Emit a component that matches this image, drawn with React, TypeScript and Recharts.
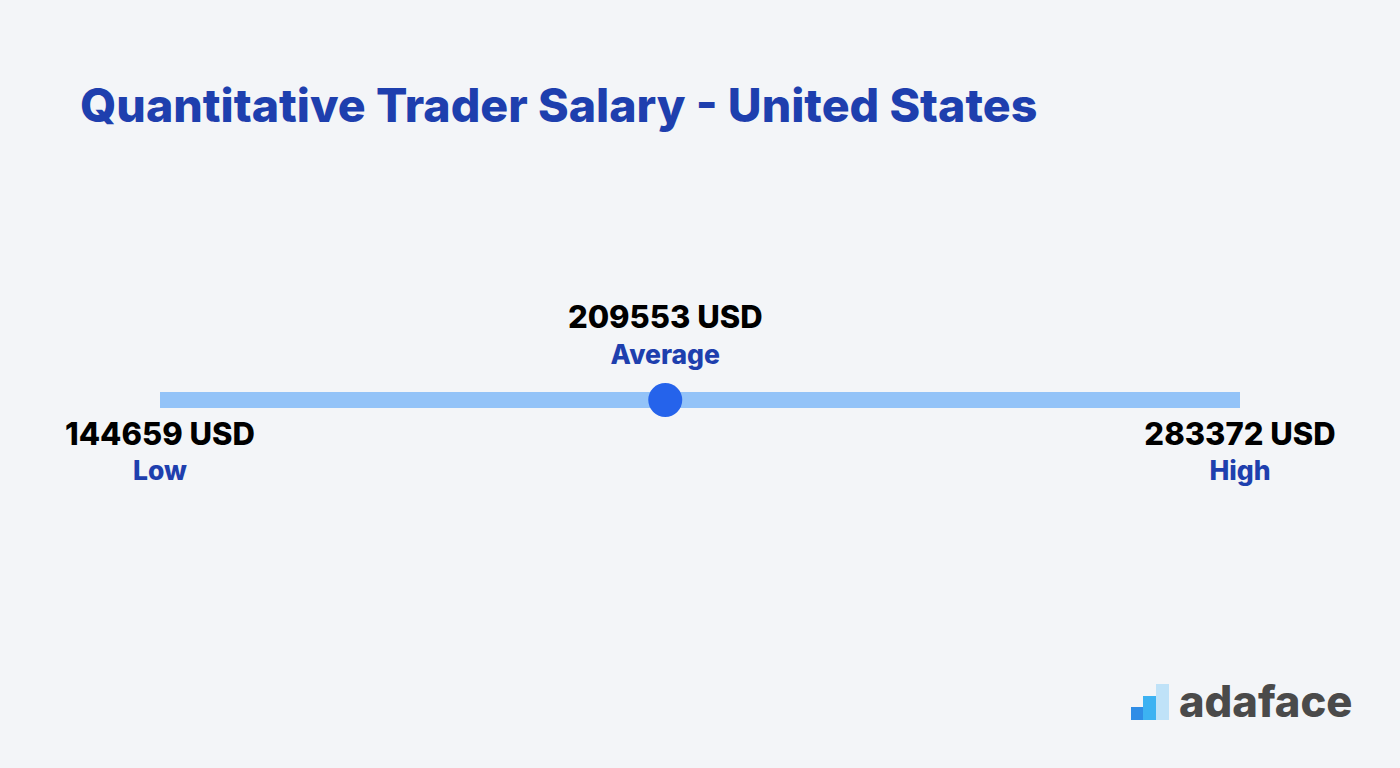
import { ComposedChart, Line, Scatter, XAxis, YAxis } from "recharts";

const title = "Quantitative Trader Salary - United States";
const currency = "USD";

const pointKinds = ["low", "avg", "high"];
const pointNames = ["Low", "Average", "High"];
const pointValues = [144659, 209553, 283372];

const trackRows = [
  { value: pointValues[0], lane: 0 },
  { value: pointValues[2], lane: 0 },
];

const pointRows = pointKinds.map((kind, i) => ({
  kind,
  name: pointNames[i],
  value: pointValues[i],
  lane: 0,
}));

const FONT = "Inter, 'Open Sans', sans-serif";

function PointMark(props: any) {
  const { cx, cy, payload } = props;
  const above = payload.kind === "avg";
  const amount = `${payload.value} ${currency}`;
  return (
    <g>
      {above && <circle cx={cx} cy={cy} r={17} fill="#2563eb" />}
      <text
        x={cx}
        y={above ? cy - 84 : cy + 33}
        textAnchor="middle"
        dominantBaseline="central"
        fontFamily={FONT}
        fontWeight={800}
        fontSize={31}
        fill="#000"
      >
        {amount}
      </text>
      <text
        x={cx}
        y={above ? cy - 46 : cy + 70}
        textAnchor="middle"
        dominantBaseline="central"
        fontFamily={FONT}
        fontWeight={800}
        fontSize={26.5}
        fill="#1e3fae"
      >
        {payload.name}
      </text>
    </g>
  );
}

function Logo() {
  return (
    <div style={{ position: "absolute", left: 1131, top: 676, display: "flex", alignItems: "flex-end" }}>
      <svg width={40} height={44} style={{ display: "block" }}>
        <rect x={0} y={31} width={12} height={13} fill="#2f8de6" />
        <rect x={12} y={20} width={13} height={24} fill="#3cb2f2" />
        <rect x={25} y={8} width={13} height={36} fill="#bfe2f8" />
      </svg>
      <div
        style={{
          marginLeft: 8,
          fontFamily: FONT,
          fontWeight: 800,
          fontSize: 43.5,
          lineHeight: "46px",
          color: "#4a4a4a",
          marginBottom: -4,
        }}
      >
        adaface
      </div>
    </div>
  );
}

export default function App() {
  return (
    <div style={{ position: "relative", width: 1400, height: 768, background: "#f3f5f8" }}>
      <style>{`body{margin:0}`}</style>
      <div
        style={{
          position: "absolute",
          left: 80,
          top: 77,
          fontFamily: FONT,
          fontWeight: 800,
          fontSize: 46.5,
          lineHeight: "56px",
          color: "#1e3fae",
          whiteSpace: "nowrap",
        }}
      >
        {title}
      </div>
      <ComposedChart
        width={1400}
        height={768}
        margin={{ top: 32, right: 160, bottom: 0, left: 160 }}
        style={{ position: "absolute", left: 0, top: 0 }}
      >
        <XAxis
          type="number"
          dataKey="value"
          domain={[pointValues[0], pointValues[2]]}
          hide
        />
        <YAxis type="number" dataKey="lane" domain={[-1, 1]} hide />
        <Line
          data={trackRows}
          dataKey="lane"
          stroke="#93c3f8"
          strokeWidth={16}
          dot={false}
          activeDot={false}
          isAnimationActive={false}
        />
        <Scatter
          data={pointRows}
          dataKey="lane"
          shape={PointMark}
          isAnimationActive={false}
        />
      </ComposedChart>
      <Logo />
    </div>
  );
}
